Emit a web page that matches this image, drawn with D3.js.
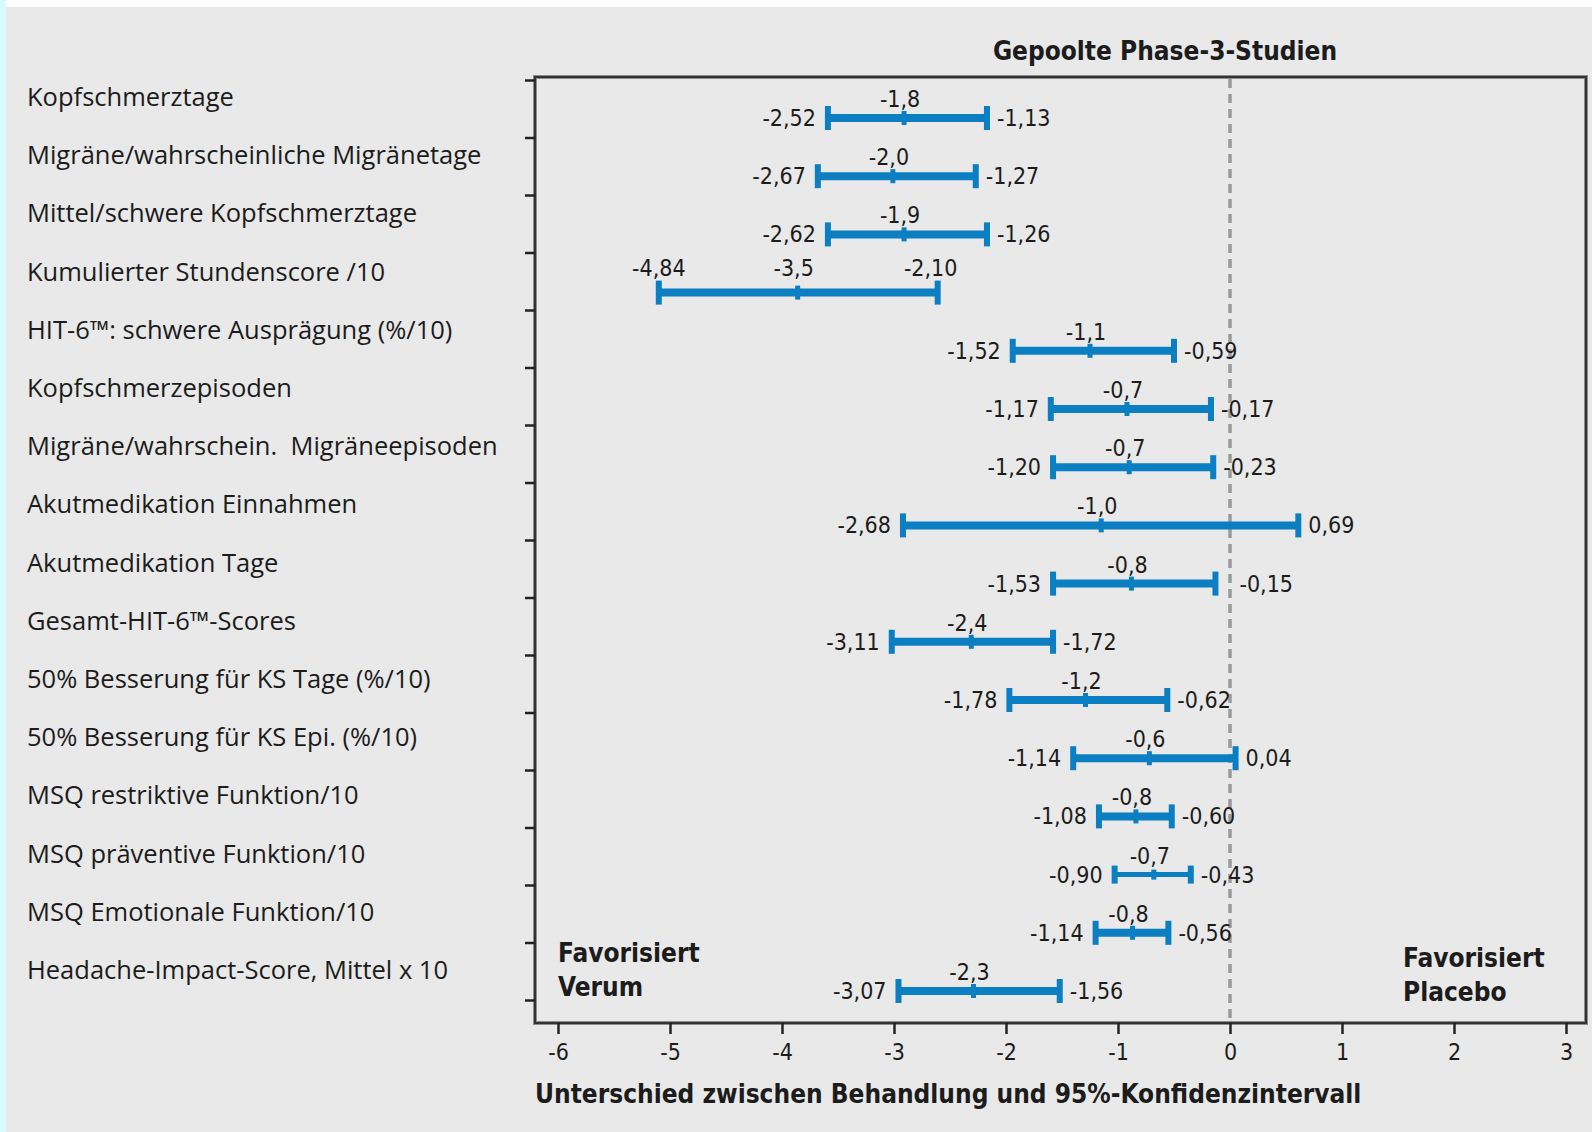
<!DOCTYPE html>
<html>
<head>
<meta charset="utf-8">
<script src="https://cdn.jsdelivr.net/npm/d3@7"></script>
<style>
  body { margin: 0; background: #ffffff; }
  svg { display: block; }
  .cond { font-family: 'Liberation Sans Narrow', 'DejaVu Sans Condensed', 'Roboto Condensed', 'Arial Narrow', sans-serif; font-stretch: condensed; }
  .cat { font-family: 'Open Sans', 'Noto Sans', sans-serif; white-space: pre; }
</style>
</head>
<body>
<div id="vis"></div>
<script>
// Endpunkte (Reihenfolge von oben nach unten)
const categories = [
  "Kopfschmerztage",
  "Migräne/wahrscheinliche Migränetage",
  "Mittel/schwere Kopfschmerztage",
  "Kumulierter Stundenscore /10",
  "HIT-6™: schwere Ausprägung (%/10)",
  "Kopfschmerzepisoden",
  "Migräne/wahrschein.  Migräneepisoden",
  "Akutmedikation Einnahmen",
  "Akutmedikation Tage",
  "Gesamt-HIT-6™-Scores",
  "50% Besserung für KS Tage (%/10)",
  "50% Besserung für KS Epi. (%/10)",
  "MSQ restriktive Funktion/10",
  "MSQ präventive Funktion/10",
  "MSQ Emotionale Funktion/10",
  "Headache-Impact-Score, Mittel x 10"
]

// where the bars sit on the x axis in the picture
const lowDrawn  = [-3.59, -3.68, -3.59, -5.10, -1.94, -1.60, -1.58, -2.92, -1.58, -3.02, -1.97, -1.40, -1.17, -1.03, -1.20, -2.96]
const estDrawn  = [-2.91, -3.01, -2.91, -3.86, -1.25, -0.92, -0.90, -1.15, -0.88, -2.31, -1.29, -0.72, -0.84, -0.68, -0.87, -2.29]
const highDrawn = [-2.17, -2.27, -2.17, -2.61, -0.50, -0.17, -0.15,  0.61, -0.13, -1.58, -0.56,  0.05, -0.52, -0.35, -0.55, -1.52]

// the numbers printed next to the bars
const lowLabel  = ["-2,52","-2,67","-2,62","-4,84","-1,52","-1,17","-1,20","-2,68","-1,53","-3,11","-1,78","-1,14","-1,08","-0,90","-1,14","-3,07"]
const estLabel  = ["-1,8","-2,0","-1,9","-3,5","-1,1","-0,7","-0,7","-1,0","-0,8","-2,4","-1,2","-0,6","-0,8","-0,7","-0,8","-2,3"]
const highLabel = ["-1,13","-1,27","-1,26","-2,10","-0,59","-0,17","-0,23","0,69","-0,15","-1,72","-0,62","0,04","-0,60","-0,43","-0,56","-1,56"]

const xTicks = [-6, -5, -4, -3, -2, -1, 0, 1, 2, 3]

const rows = categories.map((c, i) => ({
  cat: c, i: i,
  lo: lowDrawn[i], est: estDrawn[i], hi: highDrawn[i],
  loT: lowLabel[i], estT: estLabel[i], hiT: highLabel[i]
}))

const W = 1592, H = 1132
const frame = {left: 535, top: 77, right: 1586, bottom: 1023}
const blue = "#0b7fc2"
const ink = "#1c1c1c"

const svg = d3.select("#vis").append("svg")
  .attr("width", W)
  .attr("height", H)

// background, with the thin strips at the page edge
svg.append("rect").attr("width", W).attr("height", H).attr("fill", "#ffffff")
svg.append("rect").attr("x", 0).attr("y", 0).attr("width", 6).attr("height", H).attr("fill", "#d8fbfb")
svg.append("rect").attr("x", 6).attr("y", 7).attr("width", W - 6).attr("height", H - 7).attr("fill", "#e8e9e8")

const x = d3.scaleLinear().domain([-6, 3]).range([558, 1566])
const yBar = d3.scalePoint().domain(categories).range([118, 991])
const yCat = d3.scalePoint().domain(categories).range([106, 979])
const yTick = d3.scaleLinear().domain([0, 16]).range([80, 1000])

// zero line
svg.append("line")
  .attr("x1", x(0)).attr("x2", x(0))
  .attr("y1", frame.top + 2).attr("y2", frame.bottom)
  .attr("stroke", "#9a9a9a")
  .attr("stroke-width", 3.5)
  .attr("stroke-dasharray", "9,6")

// frame
svg.append("rect")
  .attr("x", frame.left).attr("y", frame.top)
  .attr("width", frame.right - frame.left)
  .attr("height", frame.bottom - frame.top)
  .attr("fill", "none")
  .attr("stroke", "#8c8c8c")
  .attr("stroke-width", 4)
svg.append("rect")
  .attr("x", frame.left).attr("y", frame.top)
  .attr("width", frame.right - frame.left)
  .attr("height", frame.bottom - frame.top)
  .attr("fill", "none")
  .attr("stroke", "#333")
  .attr("stroke-width", 2)

// x axis
const xAxis = svg.append("g")
  .attr("transform", `translate(0,${frame.bottom})`)
  .call(d3.axisBottom(x).tickValues(xTicks).tickSize(11).tickPadding(10).tickFormat(d => String(d)))
xAxis.select(".domain").remove()
xAxis.selectAll(".tick line").attr("stroke", "#222").attr("stroke-width", 2.5)
xAxis.selectAll(".tick text")
  .attr("class", "cond")
  .attr("font-size", 23)
  .attr("fill", ink)

// y axis ticks (no labels)
const yAxis = svg.append("g")
  .attr("transform", `translate(${frame.left},0)`)
  .call(d3.axisLeft(yTick).tickValues(d3.range(17)).tickSize(10).tickFormat(""))
yAxis.select(".domain").remove()
yAxis.selectAll(".tick line").attr("stroke", "#222").attr("stroke-width", 2.5)

// category labels
svg.append("g").selectAll("text")
  .data(rows)
  .join("text")
  .attr("class", "cat")
  .attr("x", 27)
  .attr("y", d => yCat(d.cat))
  .attr("font-size", 25.5)
  .attr("fill", ink)
  .text(d => d.cat)

// error bars
const bars = svg.append("g").selectAll("g")
  .data(rows)
  .join("g")
  .attr("transform", d => `translate(0,${yBar(d.cat)})`)

const thin = d => d.i === 13

bars.append("line")
  .attr("x1", d => x(d.lo))
  .attr("x2", d => x(d.hi))
  .attr("stroke", blue)
  .attr("stroke-width", d => thin(d) ? 5 : 8)

bars.selectAll("rect.cap")
  .data(d => [d.lo, d.hi].map(v => ({v: v, t: thin(d)})))
  .join("rect")
  .attr("class", "cap")
  .attr("x", d => x(d.v) - 3)
  .attr("y", d => d.t ? -9 : -12)
  .attr("width", 6)
  .attr("height", d => d.t ? 18 : 24)
  .attr("fill", blue)

bars.append("rect")
  .attr("x", d => x(d.est) - 2.5)
  .attr("y", d => thin(d) ? -5 : -7)
  .attr("width", 5)
  .attr("height", d => thin(d) ? 10 : 14)
  .attr("fill", blue)

// value labels
const vfs = 23
bars.append("text")
  .attr("class", "cond")
  .attr("font-size", vfs)
  .attr("fill", ink)
  .attr("text-anchor", d => d.i === 3 ? "middle" : "end")
  .attr("x", d => d.i === 3 ? x(d.lo) : x(d.lo) - 12)
  .attr("y", d => d.i === 3 ? -17 : 8)
  .text(d => d.loT)

bars.append("text")
  .attr("class", "cond")
  .attr("font-size", vfs)
  .attr("fill", ink)
  .attr("text-anchor", d => d.i === 3 ? "middle" : "start")
  .attr("x", d => d.i === 3 ? x(d.hi) - 7 : x(d.hi) + (d.i === 8 ? 24 : 10))
  .attr("y", d => d.i === 3 ? -17 : 8)
  .text(d => d.hiT)

bars.append("text")
  .attr("class", "cond")
  .attr("font-size", vfs)
  .attr("fill", ink)
  .attr("text-anchor", "middle")
  .attr("x", d => x(d.est) - 4)
  .attr("y", d => d.i === 3 ? -17 : -11)
  .text(d => d.estT)

// titles and notes
svg.append("text")
  .attr("class", "cond")
  .attr("x", 1165).attr("y", 60)
  .attr("text-anchor", "middle")
  .attr("font-size", 26).attr("font-weight", "bold")
  .attr("fill", ink)
  .text("Gepoolte Phase-3-Studien")

svg.append("text")
  .attr("class", "cond")
  .attr("x", 535).attr("y", 1103)
  .attr("font-size", 26).attr("font-weight", "bold")
  .attr("fill", ink)
  .text("Unterschied zwischen Behandlung und 95%-Konfidenzintervall")

const notes = [
  {x: 558, y: 962, lines: ["Favorisiert", "Verum"]},
  {x: 1403, y: 967, lines: ["Favorisiert", "Placebo"]}
]
notes.forEach(n => {
  svg.append("text")
    .attr("class", "cond")
    .attr("font-size", 26).attr("font-weight", "bold")
    .attr("fill", ink)
    .selectAll("tspan")
    .data(n.lines)
    .join("tspan")
    .attr("x", n.x)
    .attr("y", (d, i) => n.y + i * 34)
    .text(d => d)
})
</script>
</body>
</html>
